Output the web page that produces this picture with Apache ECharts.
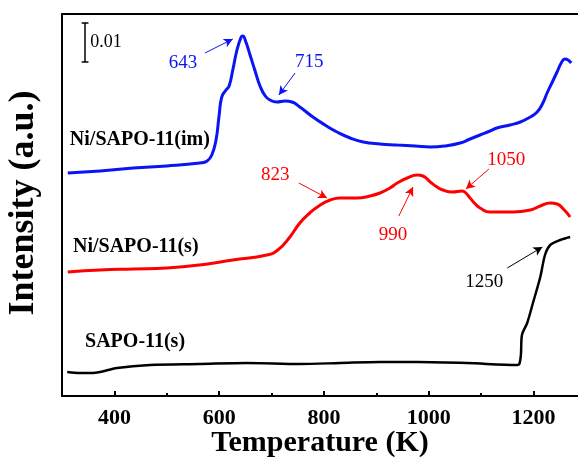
<!DOCTYPE html>
<html><head><meta charset="utf-8">
<script src="https://cdn.jsdelivr.net/npm/echarts@6/dist/echarts.min.js"></script>
<style>html,body{margin:0;padding:0;background:#fff}#c{width:578px;height:461px}</style>
</head><body><div id="c"></div>
<script>
// Temperature (K) and intensity (arbitrary units)
const tempIm = [311,373,436,500,563,577,586,594,600,605,613,619,626,634,642,645,651,659,668,678,688,697,710,726,739,754,779,802,825,850,875,907,940,974,1003,1031,1060,1079,1098,1117,1130,1155,1175,1194,1207,1217,1226,1236,1245,1253,1260,1266,1272];
const intIm  = [223,225,228,230,233,235,241,256,281,299,306,310,326,346,359,360,354,341,326,310,300,296,294,295,294,289,279,271,264,258,254,252,251,250,249,250,253,257,261,265,268,271,274,279,284,292,303,314,324,333,337,336,333];
const tempS  = [311,373,436,500,563,626,691,712,735,754,773,793,812,831,863,888,907,926,940,959,978,989,1003,1016,1027,1045,1064,1071,1079,1089,1098,1117,1136,1161,1194,1213,1232,1245,1257,1270];
const intS   = [124,126,127,128,131,136,141,146,159,173,183,191,196,198,198,200,203,208,213,218,221,220,214,209,206,204,205,203,198,192,188,184,184,184,186,190,193,192,187,179];
const tempSapo = [310,334,359,405,468,563,653,754,831,907,978,1073,1169,1173,1176,1178,1188,1199,1213,1222,1232,1251,1270];
const intSapo  = [24,23,23,28,31,32,33,32,33,34,34,33,31,32,41,61,73,93,119,141,151,156,159];
const xTickLabels = [400,600,800,1000,1200];
const xMinorTicks = [500,700,900,1100];
const seriesNames = ['Ni/SAPO-11(im)','Ni/SAPO-11(s)','SAPO-11(s)'];
// annotations: [label, labelT, labelV, arrowFromT, arrowFromV, arrowToT, arrowToV]
const peaksIm = [['643',531,333,573,343,626,357],['715',772,334,745,323,714,301]];
const peaksS  = [['823',707,221,752,213,806,198],['990',932,161,943,180,970,209],['1050',1148,236,1115,227,1071,207]];
const peaksSapo = [['1250',1106,114,1150,128,1217,149]];
const nameLabelPos = [[315,256],[321,149],[344,54]];
const scaleBar = {t:344, v0:334, v1:373, label:'0.01'};

const FONT = "'Liberation Serif','Times New Roman',serif";
const zip = (a,b)=>a.map((x,i)=>[x,b[i]]);

function annot(peaks, color, nameIdx, extraLines, extraPoints){
  const lines = peaks.map(p=>[{coord:[p[3],p[4]],symbol:'none'},{coord:[p[5],p[6]],symbol:'arrow'}]);
  const pts = peaks.map(p=>({coord:[p[1],p[2]],value:p[0],
    label:{show:true,position:'inside',formatter:p[0],color:color,fontFamily:FONT,fontSize:19}}));
  const np = nameLabelPos[nameIdx];
  pts.push({coord:np,value:seriesNames[nameIdx],
    label:{show:true,position:'right',distance:0,formatter:seriesNames[nameIdx],color:'#000',fontFamily:FONT,fontSize:20,fontWeight:'bold'}});
  return {
    markLine:{silent:true,animation:false,symbolSize:[7,9],lineStyle:{color:color,width:1,type:'solid'},label:{show:false},data:lines.concat(extraLines||[])},
    markPoint:{silent:true,animation:false,symbol:'circle',symbolSize:0,data:pts.concat(extraPoints||[])}
  };
}

const capW = 6.5;
const barLines = [
  [{coord:[scaleBar.t,scaleBar.v0],symbol:'none',lineStyle:{color:'#000',width:1.5}},{coord:[scaleBar.t,scaleBar.v1],symbol:'none'}],
  [{coord:[scaleBar.t-capW,scaleBar.v0],symbol:'none',lineStyle:{color:'#000',width:1.5}},{coord:[scaleBar.t+capW,scaleBar.v0],symbol:'none'}],
  [{coord:[scaleBar.t-capW,scaleBar.v1],symbol:'none',lineStyle:{color:'#000',width:1.5}},{coord:[scaleBar.t+capW,scaleBar.v1],symbol:'none'}]
];
const barPts = [{coord:[scaleBar.t+10,(scaleBar.v0+scaleBar.v1)/2],value:scaleBar.label,
  label:{show:true,position:'right',distance:0,formatter:scaleBar.label,color:'#000',fontFamily:FONT,fontSize:18}}];

const chart = echarts.init(document.getElementById('c'));
chart.setOption({
  animation:false,
  grid:{left:62,right:0,top:14,bottom:65,outerBoundsMode:'none',containLabel:false},
  xAxis:[{
    type:'value',min:300,max:1285,position:'bottom',
    name:'Temperature (K)',nameLocation:'middle',nameGap:32,nameMoveOverlap:false,
    nameTextStyle:{fontFamily:FONT,fontSize:30,fontWeight:'bold',color:'#000'},
    axisLine:{show:true,lineStyle:{color:'#000',width:2}},
    axisTick:{show:true,inside:true,length:5,customValues:xTickLabels,lineStyle:{color:'#000',width:2}},
    axisLabel:{customValues:xTickLabels,formatter:v=>String(v),margin:11,fontFamily:FONT,fontSize:22,fontWeight:'bold',color:'#000'},
    splitLine:{show:false}
  },{
    type:'value',min:300,max:1285,position:'bottom',
    axisLine:{show:false},
    axisTick:{show:true,inside:true,length:3,customValues:xMinorTicks,lineStyle:{color:'#000',width:2}},
    axisLabel:{show:false},splitLine:{show:false}
  },{
    type:'value',min:300,max:1285,position:'top',
    axisLine:{show:true,lineStyle:{color:'#000',width:2}},
    axisTick:{show:false},axisLabel:{show:false},splitLine:{show:false}
  }],
  yAxis:{
    type:'value',min:0,max:382,
    name:'Intensity (a.u.)',nameLocation:'middle',nameGap:20,nameMoveOverlap:false,
    nameTextStyle:{fontFamily:FONT,fontSize:36,fontWeight:'bold',color:'#000',padding:[0,0,0,4]},
    axisLine:{show:true,lineStyle:{color:'#000',width:2}},
    axisTick:{show:false},axisLabel:{show:false},splitLine:{show:false}
  },
  series:[
    Object.assign({type:'line',name:seriesNames[0],data:zip(tempIm,intIm),showSymbol:false,smooth:0.5,
      lineStyle:{color:'#0a14f5',width:3},itemStyle:{color:'#0a14f5'}}, annot(peaksIm,'#0a14f5',0)),
    Object.assign({type:'line',name:seriesNames[1],data:zip(tempS,intS),showSymbol:false,smooth:0.5,
      lineStyle:{color:'#ff0000',width:3},itemStyle:{color:'#ff0000'}}, annot(peaksS,'#ff0000',1)),
    Object.assign({type:'line',name:seriesNames[2],data:zip(tempSapo,intSapo),showSymbol:false,smooth:0.3,
      lineStyle:{color:'#000',width:2.5},itemStyle:{color:'#000'}}, annot(peaksSapo,'#000',2,barLines,barPts))
  ]
});
</script></body></html>
